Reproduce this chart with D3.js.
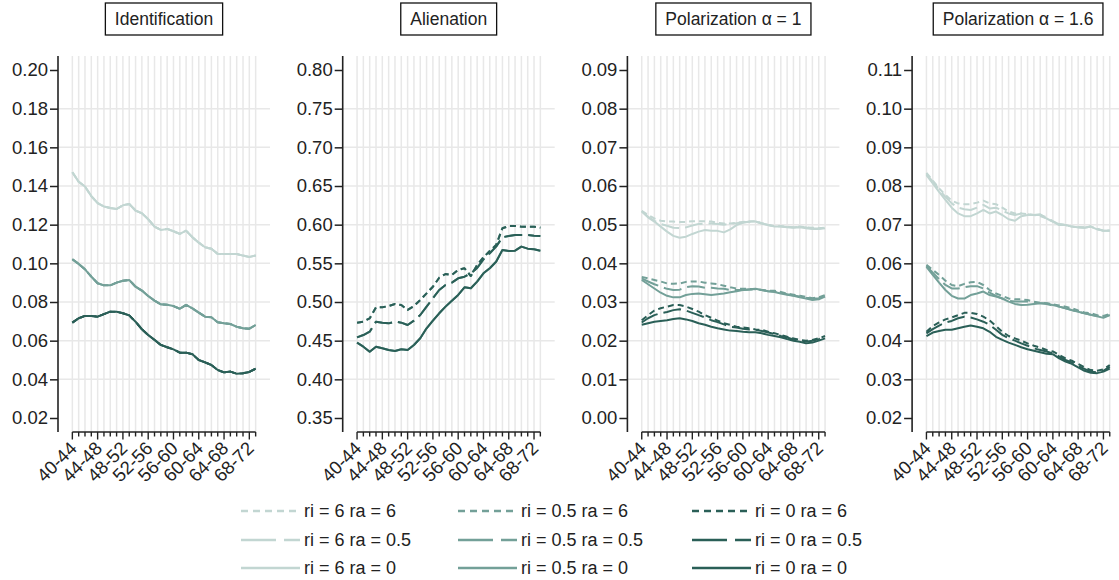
<!DOCTYPE html>
<html>
<head>
<meta charset="utf-8">
<script src="https://cdn.jsdelivr.net/npm/d3@7"></script>
<style>
  body { margin: 0; background: #fff; }
  text { font-family: "Liberation Sans", Arial, sans-serif; fill: #222; }
</style>
</head>
<body>
<svg id="chart" width="1119" height="580"></svg>
<script>
// categories (age windows) and labelled ticks
const categories = ["40-44","41-45","42-46","43-47","44-48","45-49","46-50","47-51","48-52","49-53",
  "50-54","51-55","52-56","53-57","54-58","55-59","56-60","57-61","58-62","59-63",
  "60-64","61-65","62-66","63-67","64-68","65-69","66-70","67-71","68-72","69-73"];
const labelCats = ["40-44","44-48","48-52","52-56","56-60","60-64","64-68","68-72"];

const panelTitles = ["Identification", "Alienation", "Polarization α = 1", "Polarization α = 1.6"];
const yTicks = [
  [0.02,0.04,0.06,0.08,0.10,0.12,0.14,0.16,0.18,0.20],
  [0.35,0.40,0.45,0.50,0.55,0.60,0.65,0.70,0.75,0.80],
  [0.00,0.01,0.02,0.03,0.04,0.05,0.06,0.07,0.08,0.09],
  [0.02,0.03,0.04,0.05,0.06,0.07,0.08,0.09,0.10,0.11]
];

const riLevels = ["6", "0.5", "0"];
const raLevels = ["6", "0.5", "0"];
const riColors = ["#c2d6d2", "#73a098", "#2a5f57"];

// Identification: depends on ri only
const ident_ri6 = [0.1471,0.1422,0.1397,0.1348,0.1311,0.1294,0.1286,0.1281,0.1300,0.1307,0.1273,0.1259,0.1228,0.1190,0.1173,0.1178,0.1166,0.1152,0.1169,0.1135,0.1107,0.1083,0.1075,0.1049,0.1048,0.1048,0.1048,0.1040,0.1033,0.1040];
const ident_ri05 = [0.1021,0.0997,0.0969,0.0931,0.0897,0.0886,0.0886,0.0900,0.0910,0.0914,0.0879,0.0859,0.0831,0.0807,0.0788,0.0786,0.0779,0.0765,0.0785,0.0767,0.0745,0.0724,0.0721,0.0695,0.0690,0.0686,0.0672,0.0664,0.0662,0.0681];
const ident_ri0 = [0.0693,0.0716,0.0728,0.0728,0.0724,0.0737,0.0750,0.0750,0.0742,0.0731,0.0698,0.0659,0.0629,0.0604,0.0578,0.0566,0.0555,0.0538,0.0538,0.0530,0.0500,0.0488,0.0474,0.0448,0.0436,0.0440,0.0429,0.0431,0.0438,0.0455];

// Alienation: depends on ra only
const alien_ra6 = [0.4733,0.4746,0.4789,0.4931,0.4931,0.4948,0.4974,0.4961,0.4897,0.4948,0.5026,0.5112,0.5198,0.5314,0.5362,0.5349,0.5414,0.5436,0.5336,0.5478,0.5578,0.5660,0.5737,0.5953,0.5983,0.5983,0.5974,0.5974,0.5974,0.5961];
const alien_ra05 = [0.4543,0.4573,0.4616,0.4746,0.4733,0.4724,0.4746,0.4733,0.4703,0.4759,0.4832,0.4940,0.5048,0.5155,0.5220,0.5250,0.5306,0.5327,0.5371,0.5440,0.5552,0.5630,0.5716,0.5837,0.5854,0.5867,0.5867,0.5867,0.5858,0.5854];
const alien_ra0 = [0.4474,0.4422,0.4357,0.4422,0.4401,0.4379,0.4366,0.4388,0.4379,0.4444,0.4531,0.4660,0.4759,0.4854,0.4940,0.5017,0.5091,0.5190,0.5177,0.5263,0.5371,0.5436,0.5521,0.5672,0.5660,0.5664,0.5716,0.5690,0.5681,0.5664];

// Polarization alpha = 1
const pol1_ri6_ra6 = [0.0536,0.0525,0.0516,0.0510,0.0508,0.0508,0.0507,0.0507,0.0509,0.0509,0.0509,0.0508,0.0505,0.0503,0.0503,0.0505,0.0507,0.0508,0.0509,0.0504,0.0499,0.0496,0.0496,0.0495,0.0493,0.0495,0.0493,0.0492,0.0491,0.0492];
const pol1_ri6_ra05 = [0.0535,0.0520,0.0510,0.0502,0.0497,0.0492,0.0491,0.0493,0.0498,0.0502,0.0503,0.0503,0.0502,0.0500,0.0502,0.0504,0.0506,0.0507,0.0508,0.0503,0.0499,0.0496,0.0496,0.0494,0.0493,0.0494,0.0493,0.0490,0.0490,0.0492];
const pol1_ri6_ra0 = [0.0534,0.0519,0.0508,0.0495,0.0482,0.0471,0.0466,0.0469,0.0476,0.0482,0.0486,0.0484,0.0484,0.0480,0.0488,0.0499,0.0505,0.0508,0.0508,0.0503,0.0499,0.0495,0.0495,0.0493,0.0492,0.0493,0.0491,0.0489,0.0489,0.0491];
const pol1_ri05_ra6 = [0.0365,0.0361,0.0357,0.0353,0.0348,0.0347,0.0348,0.0352,0.0353,0.0353,0.0350,0.0348,0.0346,0.0342,0.0338,0.0335,0.0334,0.0334,0.0333,0.0331,0.0329,0.0329,0.0326,0.0322,0.0319,0.0316,0.0313,0.0310,0.0312,0.0318];
const pol1_ri05_ra05 = [0.0361,0.0353,0.0346,0.0340,0.0334,0.0331,0.0332,0.0338,0.0341,0.0340,0.0337,0.0337,0.0335,0.0334,0.0331,0.0331,0.0331,0.0332,0.0333,0.0331,0.0328,0.0327,0.0324,0.0320,0.0317,0.0314,0.0311,0.0309,0.0310,0.0316];
const pol1_ri05_ra0 = [0.0357,0.0346,0.0335,0.0324,0.0316,0.0312,0.0312,0.0318,0.0321,0.0322,0.0320,0.0318,0.0320,0.0322,0.0325,0.0328,0.0331,0.0333,0.0334,0.0331,0.0328,0.0326,0.0322,0.0319,0.0316,0.0312,0.0309,0.0305,0.0307,0.0314];
const pol1_ri0_ra6 = [0.0253,0.0266,0.0278,0.0284,0.0288,0.0292,0.0292,0.0288,0.0282,0.0275,0.0266,0.0259,0.0252,0.0245,0.0241,0.0236,0.0234,0.0232,0.0229,0.0228,0.0223,0.0219,0.0215,0.0210,0.0206,0.0202,0.0200,0.0202,0.0206,0.0212];
const pol1_ri0_ra05 = [0.0247,0.0258,0.0266,0.0271,0.0274,0.0279,0.0281,0.0278,0.0272,0.0266,0.0260,0.0253,0.0248,0.0242,0.0236,0.0234,0.0231,0.0229,0.0228,0.0225,0.0221,0.0217,0.0212,0.0208,0.0203,0.0199,0.0197,0.0200,0.0204,0.0210];
const pol1_ri0_ra0 = [0.0241,0.0245,0.0249,0.0251,0.0253,0.0256,0.0258,0.0255,0.0251,0.0245,0.0241,0.0236,0.0232,0.0229,0.0226,0.0225,0.0223,0.0222,0.0222,0.0219,0.0215,0.0212,0.0209,0.0204,0.0200,0.0197,0.0193,0.0195,0.0200,0.0206];

// Polarization alpha = 1.6
const pol16_ri6_ra6 = [0.0834,0.0814,0.0794,0.0777,0.0762,0.0755,0.0753,0.0753,0.0757,0.0762,0.0755,0.0753,0.0744,0.0734,0.0729,0.0729,0.0727,0.0725,0.0722,0.0716,0.0708,0.0702,0.0699,0.0695,0.0693,0.0693,0.0695,0.0689,0.0685,0.0685];
const pol16_ri6_ra05 = [0.0831,0.0811,0.0791,0.0772,0.0755,0.0744,0.0740,0.0738,0.0744,0.0751,0.0742,0.0744,0.0736,0.0729,0.0725,0.0729,0.0727,0.0725,0.0725,0.0719,0.0709,0.0701,0.0699,0.0695,0.0693,0.0692,0.0695,0.0689,0.0684,0.0684];
const pol16_ri6_ra0 = [0.0828,0.0807,0.0785,0.0764,0.0744,0.0729,0.0722,0.0722,0.0729,0.0738,0.0729,0.0734,0.0725,0.0714,0.0710,0.0722,0.0725,0.0725,0.0727,0.0716,0.0708,0.0699,0.0699,0.0695,0.0693,0.0692,0.0695,0.0688,0.0684,0.0684];
const pol16_ri05_ra6 = [0.0596,0.0583,0.0570,0.0555,0.0544,0.0541,0.0547,0.0551,0.0552,0.0544,0.0531,0.0522,0.0516,0.0509,0.0507,0.0507,0.0505,0.0501,0.0498,0.0497,0.0494,0.0491,0.0488,0.0484,0.0478,0.0473,0.0471,0.0466,0.0464,0.0469];
const pol16_ri05_ra05 = [0.0593,0.0576,0.0559,0.0544,0.0535,0.0535,0.0538,0.0541,0.0541,0.0535,0.0524,0.0516,0.0509,0.0503,0.0501,0.0501,0.0501,0.0498,0.0497,0.0495,0.0491,0.0488,0.0484,0.0479,0.0474,0.0471,0.0467,0.0464,0.0462,0.0466];
const pol16_ri05_ra0 = [0.0591,0.0570,0.0550,0.0531,0.0516,0.0509,0.0509,0.0518,0.0522,0.0527,0.0518,0.0514,0.0509,0.0501,0.0495,0.0492,0.0493,0.0495,0.0497,0.0497,0.0492,0.0488,0.0484,0.0479,0.0475,0.0471,0.0467,0.0463,0.0459,0.0466];
const pol16_ri0_ra6 = [0.0423,0.0438,0.0447,0.0455,0.0460,0.0466,0.0472,0.0472,0.0469,0.0462,0.0452,0.0438,0.0423,0.0412,0.0406,0.0400,0.0393,0.0387,0.0382,0.0376,0.0372,0.0363,0.0354,0.0348,0.0340,0.0331,0.0324,0.0322,0.0326,0.0337];
const pol16_ri0_ra05 = [0.0419,0.0430,0.0439,0.0447,0.0451,0.0458,0.0462,0.0460,0.0455,0.0449,0.0441,0.0428,0.0415,0.0406,0.0400,0.0393,0.0387,0.0380,0.0376,0.0372,0.0367,0.0359,0.0350,0.0344,0.0334,0.0327,0.0320,0.0318,0.0322,0.0333];
const pol16_ri0_ra0 = [0.0412,0.0421,0.0425,0.0428,0.0428,0.0432,0.0436,0.0439,0.0436,0.0432,0.0423,0.0410,0.0402,0.0395,0.0389,0.0383,0.0378,0.0374,0.0370,0.0366,0.0365,0.0354,0.0346,0.0340,0.0331,0.0322,0.0317,0.0316,0.0320,0.0328];

// table: panel -> [ri][ra] -> values
const ident = [ident_ri6, ident_ri05, ident_ri0];
const alien = [alien_ra6, alien_ra05, alien_ra0];
const pol1 = [[pol1_ri6_ra6, pol1_ri6_ra05, pol1_ri6_ra0],
              [pol1_ri05_ra6, pol1_ri05_ra05, pol1_ri05_ra0],
              [pol1_ri0_ra6, pol1_ri0_ra05, pol1_ri0_ra0]];
const pol16 = [[pol16_ri6_ra6, pol16_ri6_ra05, pol16_ri6_ra0],
               [pol16_ri05_ra6, pol16_ri05_ra05, pol16_ri05_ra0],
               [pol16_ri0_ra6, pol16_ri0_ra05, pol16_ri0_ra0]];
const panelValues = [
  (ri, ra) => ident[ri],
  (ri, ra) => alien[ra],
  (ri, ra) => pol1[ri][ra],
  (ri, ra) => pol16[ri][ra]
];

const chartDash = ["6,4", "18,6", null];
const legendDash = ["7,5", "35,8", null];

const svg = d3.select("#chart");

const panelLeft0 = 58, panelStep = 284.7, plotW = 212;
const plotTop = 56, plotBottom = 432, tickTop = 70, tickBottom = 418;

panelTitles.forEach((title, p) => {
  const px = panelLeft0 + p * panelStep;
  const g = svg.append("g");
  const ticks = yTicks[p];

  const x = d3.scalePoint().domain(categories).range([px, px + plotW]).padding(2.27);
  const y = d3.scaleLinear().domain([ticks[0], ticks[ticks.length - 1]]).range([tickBottom, tickTop]);

  // grid
  g.selectAll(".vgrid").data(categories).enter().append("line")
    .attr("x1", d => x(d)).attr("x2", d => x(d))
    .attr("y1", plotTop).attr("y2", plotBottom)
    .attr("stroke", "#e8e8e8").attr("stroke-width", 1.5);
  g.selectAll(".hgrid").data(ticks.slice(1, -1)).enter().append("line")
    .attr("x1", px).attr("x2", px + plotW)
    .attr("y1", d => y(d)).attr("y2", d => y(d))
    .attr("stroke", "#e8e8e8").attr("stroke-width", 1.5);

  // lines
  const line = d3.line()
    .x((d, i) => x(categories[i]))
    .y(d => y(d));
  riLevels.forEach((ri, a) => {
    raLevels.forEach((ra, b) => {
      g.append("path")
        .datum(panelValues[p](a, b))
        .attr("d", line)
        .attr("fill", "none")
        .attr("stroke", riColors[a])
        .attr("stroke-width", 2)
        .attr("stroke-linejoin", "round")
        .attr("stroke-dasharray", chartDash[b]);
    });
  });

  // y axis
  const yAxis = g.append("g")
    .attr("transform", `translate(${px},0)`)
    .call(d3.axisLeft(y).tickValues(ticks).tickSize(8).tickPadding(2).tickFormat(d3.format(".2f")));
  yAxis.select(".domain").remove();
  yAxis.selectAll("line").attr("stroke", "#222").attr("stroke-width", 1.5);
  yAxis.selectAll("text").attr("font-size", 18.5).attr("font-family", null).attr("fill", "#222");
  g.append("line")
    .attr("x1", px).attr("x2", px).attr("y1", plotTop).attr("y2", plotBottom)
    .attr("stroke", "#222").attr("stroke-width", 1.6);

  // x axis
  g.append("line")
    .attr("x1", x(categories[0])).attr("x2", x(categories[categories.length - 1]))
    .attr("y1", plotBottom).attr("y2", plotBottom)
    .attr("stroke", "#222").attr("stroke-width", 1.6);
  g.selectAll(".xtick").data(categories).enter().append("line")
    .attr("x1", d => x(d)).attr("x2", d => x(d))
    .attr("y1", plotBottom)
    .attr("y2", d => plotBottom + (labelCats.includes(d) ? 7.5 : 4.5))
    .attr("stroke", "#222").attr("stroke-width", 1.4);
  g.selectAll(".xlab").data(labelCats).enter().append("text")
    .attr("transform", d => `translate(${x(d) + 1},${plotBottom + 13}) rotate(-45)`)
    .attr("text-anchor", "end")
    .attr("dy", "0.35em")
    .attr("font-size", 18.5)
    .text(d => d);

  // title box
  const cx = px + plotW / 2;
  const tg = svg.append("g");
  const box = tg.append("rect");
  const tt = tg.append("text")
    .attr("x", cx).attr("y", 25)
    .attr("text-anchor", "middle")
    .attr("font-size", 17.5)
    .text(title);
  const tw = tt.node().getComputedTextLength();
  box.attr("x", cx - tw / 2 - 9.5).attr("y", 3)
    .attr("width", tw + 19).attr("height", 32)
    .attr("fill", "#fff").attr("stroke", "#111").attr("stroke-width", 1.3);
});

// legend: columns = ri, rows = ra
const legendColX = [241, 458, 692];
const legendRowY = [511, 540, 568];
const legend = svg.append("g");
riLevels.forEach((ri, a) => {
  raLevels.forEach((ra, b) => {
    const lx = legendColX[a], ly = legendRowY[b];
    legend.append("line")
      .attr("x1", lx).attr("x2", lx + 59)
      .attr("y1", ly).attr("y2", ly)
      .attr("stroke", riColors[a]).attr("stroke-width", 2.5)
      .attr("stroke-dasharray", legendDash[b]);
    legend.append("text")
      .attr("x", lx + 63).attr("y", ly)
      .attr("dy", "0.35em")
      .attr("font-size", 18)
      .text(`ri = ${ri} ra = ${ra}`);
  });
});
</script>
</body>
</html>
